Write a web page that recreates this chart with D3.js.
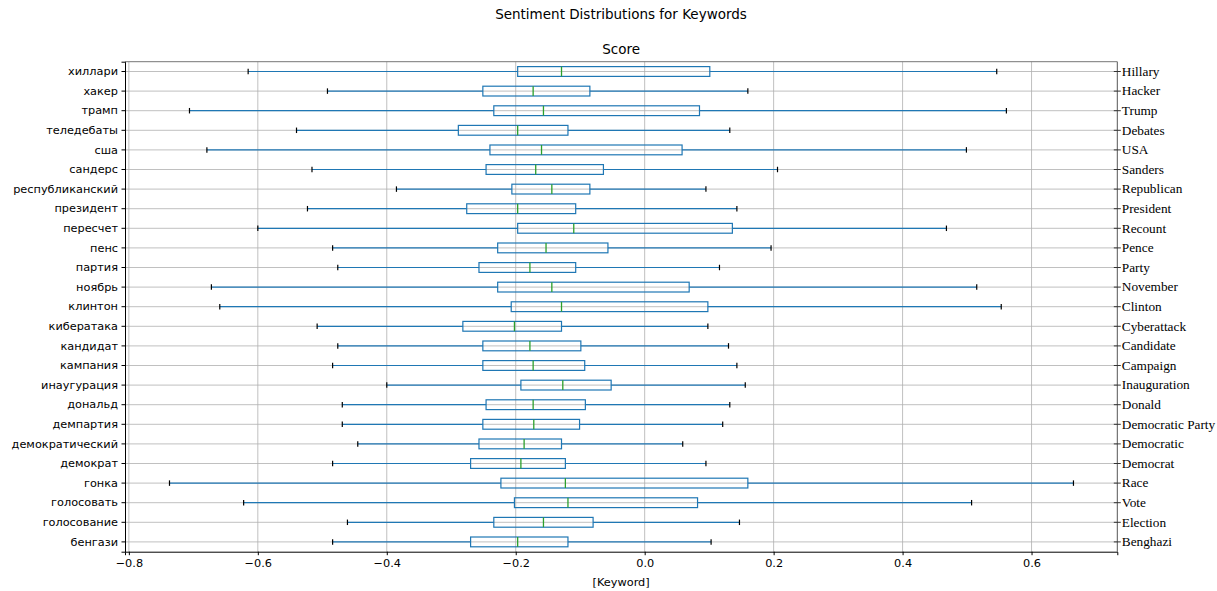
<!DOCTYPE html>
<html>
<head>
<meta charset="utf-8">
<script src="https://cdn.jsdelivr.net/npm/d3@7"></script>
<style>
  body { margin: 0; background: #fff; }
  svg { display: block; }
</style>
</head>
<body>
<div id="chart"></div>
<script>
// keywords, top to bottom
var labelsRu = ["хиллари", "хакер", "трамп", "теледебаты", "сша", "сандерс", "республиканский", "президент",
  "пересчет", "пенс", "партия", "ноябрь", "клинтон", "кибератака", "кандидат", "кампания",
  "инаугурация", "дональд", "демпартия", "демократический", "демократ", "гонка", "голосовать",
  "голосование", "бенгази"];
var labelsEn = ["Hillary", "Hacker", "Trump", "Debates", "USA", "Sanders", "Republican", "President",
  "Recount", "Pence", "Party", "November", "Clinton", "Cyberattack", "Candidate", "Campaign",
  "Inauguration", "Donald", "Democratic Party", "Democratic", "Democrat", "Race", "Vote",
  "Election", "Benghazi"];

// box stats
var whiskLo = [-0.615, -0.492, -0.706, -0.540, -0.679, -0.516, -0.385, -0.523, -0.600, -0.484, -0.476, -0.672, -0.659,
  -0.508, -0.476, -0.484, -0.400, -0.469, -0.469, -0.445, -0.484, -0.737, -0.622, -0.461, -0.484];
var q1 = [-0.197, -0.251, -0.234, -0.289, -0.240, -0.246, -0.206, -0.276, -0.197, -0.228, -0.257, -0.228, -0.207,
  -0.282, -0.251, -0.251, -0.192, -0.246, -0.251, -0.257, -0.270, -0.223, -0.202, -0.234, -0.270];
var med = [-0.129, -0.173, -0.157, -0.197, -0.160, -0.169, -0.144, -0.197, -0.110, -0.153, -0.178, -0.144, -0.129,
  -0.202, -0.178, -0.173, -0.127, -0.173, -0.172, -0.187, -0.192, -0.123, -0.119, -0.157, -0.197];
var q3 = [0.101, -0.085, 0.085, -0.119, 0.058, -0.064, -0.085, -0.107, 0.136, -0.057, -0.107, 0.069, 0.098,
  -0.129, -0.099, -0.093, -0.052, -0.092, -0.101, -0.129, -0.123, 0.160, 0.082, -0.080, -0.119];
var whiskHi = [0.546, 0.160, 0.561, 0.132, 0.499, 0.206, 0.095, 0.143, 0.468, 0.196, 0.116, 0.515, 0.553,
  0.098, 0.130, 0.143, 0.156, 0.132, 0.121, 0.059, 0.095, 0.665, 0.507, 0.147, 0.103];

var xTicks = [-0.8, -0.6, -0.4, -0.2, 0.0, 0.2, 0.4, 0.6];

var width = 1217, height = 591;
var plotL = 125, plotR = 1117.3, plotT = 61.7, plotB = 551.7;

var rows = labelsRu.map(function(d, i) {
  return {ru: d, en: labelsEn[i], lo: whiskLo[i], q1: q1[i], med: med[i], q3: q3[i], hi: whiskHi[i]};
});

var x = d3.scaleLinear().domain([-0.806, 0.733]).range([plotL, plotR]);
var y = d3.scaleBand().domain(labelsRu).range([plotT, plotB]).padding(0);
var bw = y.bandwidth();
function cy(d) { return y(d.ru) + bw / 2; }

var svg = d3.select("#chart").append("svg")
  .attr("width", width)
  .attr("height", height);

// grid
var grid = svg.append("g");
grid.selectAll(".gx").data(xTicks).enter().append("line")
  .attr("x1", d => x(d)).attr("x2", d => x(d))
  .attr("y1", plotT).attr("y2", plotB)
  .attr("stroke", "#b0b0b0").attr("stroke-width", 0.8);
grid.selectAll(".gy").data(rows).enter().append("line")
  .attr("x1", plotL).attr("x2", plotR)
  .attr("y1", cy).attr("y2", cy)
  .attr("stroke", "#b0b0b0").attr("stroke-width", 0.8);

var blue = "#1f77b4";
var g = svg.append("g");

// whiskers
g.selectAll(".wl").data(rows).enter().append("line")
  .attr("x1", d => x(d.lo)).attr("x2", d => x(d.q1))
  .attr("y1", cy).attr("y2", cy)
  .attr("stroke", blue).attr("stroke-width", 1.2);
g.selectAll(".wh").data(rows).enter().append("line")
  .attr("x1", d => x(d.q3)).attr("x2", d => x(d.hi))
  .attr("y1", cy).attr("y2", cy)
  .attr("stroke", blue).attr("stroke-width", 1.2);

// caps
var capH = bw * 0.28;
["lo", "hi"].forEach(function(k) {
  g.selectAll(".cap" + k).data(rows).enter().append("line")
    .attr("x1", d => x(d[k])).attr("x2", d => x(d[k]))
    .attr("y1", d => cy(d) - capH / 2).attr("y2", d => cy(d) + capH / 2)
    .attr("stroke", "#000").attr("stroke-width", 1.2);
});

// boxes
g.selectAll(".box").data(rows).enter().append("rect")
  .attr("x", d => x(d.q1))
  .attr("width", d => x(d.q3) - x(d.q1))
  .attr("y", d => cy(d) - bw / 4)
  .attr("height", bw / 2)
  .attr("fill", "none")
  .attr("stroke", blue).attr("stroke-width", 1.2);

// medians
g.selectAll(".med").data(rows).enter().append("line")
  .attr("x1", d => x(d.med)).attr("x2", d => x(d.med))
  .attr("y1", d => cy(d) - bw / 4).attr("y2", d => cy(d) + bw / 4)
  .attr("stroke", "#2ca02c").attr("stroke-width", 1.3);

// frame
svg.append("line").attr("x1", plotL).attr("x2", plotR).attr("y1", plotT).attr("y2", plotT)
  .attr("stroke", "#777").attr("stroke-width", 1);
svg.append("line").attr("x1", plotR).attr("x2", plotR).attr("y1", plotT).attr("y2", plotB)
  .attr("stroke", "#555").attr("stroke-width", 1);

// axes
var xAxis = svg.append("g")
  .attr("transform", "translate(0," + plotB + ")")
  .call(d3.axisBottom(x).tickValues(xTicks).tickFormat(d3.format(".1f")).tickSizeOuter(0).tickSize(3.5).tickPadding(3.5));
xAxis.selectAll("text").attr("font-family", "DejaVu Sans").attr("font-size", 11.3).attr("fill", "#000");
xAxis.select(".domain").attr("stroke", "#000");

var yAxis = svg.append("g")
  .attr("transform", "translate(" + plotL + ",0)")
  .call(d3.axisLeft(y).tickSizeOuter(0).tickSize(3.5).tickPadding(3.5));
yAxis.selectAll("text").attr("font-family", "DejaVu Sans").attr("font-size", 11.3).attr("fill", "#000");
yAxis.select(".domain").attr("stroke", "#000");

var yRight = d3.scaleBand().domain(labelsEn).range([plotT, plotB]).padding(0);
var rAxis = svg.append("g")
  .attr("transform", "translate(" + plotR + ",0)")
  .call(d3.axisRight(yRight).tickSizeOuter(0).tickSize(3.5).tickPadding(1));
rAxis.select(".domain").remove();
rAxis.selectAll(".tick line").attr("x1", -3.5).attr("x2", 3.5).attr("stroke", "#333");
rAxis.selectAll("text").attr("font-family", "Liberation Serif").attr("font-size", 13.3).attr("fill", "#000");

// titles
svg.append("text").attr("x", 621).attr("y", 19).attr("text-anchor", "middle")
  .attr("font-family", "DejaVu Sans").attr("font-size", 13.5)
  .text("Sentiment Distributions for Keywords");
svg.append("text").attr("x", (plotL + plotR) / 2).attr("y", 54).attr("text-anchor", "middle")
  .attr("font-family", "DejaVu Sans").attr("font-size", 13.5)
  .text("Score");
svg.append("text").attr("x", (plotL + plotR) / 2).attr("y", 586).attr("text-anchor", "middle")
  .attr("font-family", "DejaVu Sans").attr("font-size", 11.3)
  .text("[Keyword]");
</script>
</body>
</html>
